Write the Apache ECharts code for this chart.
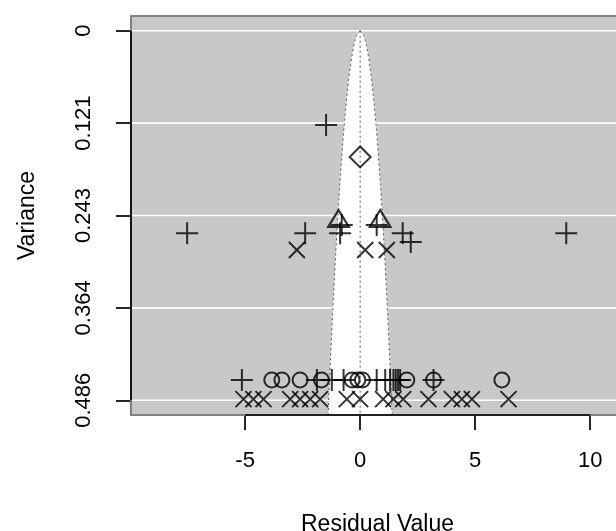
<!DOCTYPE html>
<html>
<head>
<meta charset="utf-8">
<script src="https://cdn.jsdelivr.net/npm/echarts@6/dist/echarts.min.js"></script>
<style>
html,body{margin:0;padding:0;background:#fff;}
#chart{width:616px;height:531px;}
</style>
</head>
<body>
<div id="chart"></div>
<script>
// ---- axis settings ----
const xLim = [-9.96, 11.47];
const yLim = [-0.0194, 0.5054];
const xTicks = [-5, 0, 5, 10];
const xTickLabels = ['-5', '0', '5', '10'];
const yTicks = [0, 0.1215, 0.243, 0.3645, 0.486];
const yTickLabels = ['0', '0.121', '0.243', '0.364', '0.486'];
const xTitle = 'Residual Value';
const yTitle = 'Variance';
const funnelZ = 1.96;

// ---- data (residual value, variance) ----
const plusX = [-1.48, -0.80, 0.72, -7.52, -2.39, -0.87, 1.85, 8.96, 2.20,
               -5.14, -1.88, -1.23, -0.72, 0.72, 1.09, 1.30, 1.45, 1.55, 1.65, 1.74, 3.19];
const plusV = [0.124, 0.2555, 0.2555, 0.2664, 0.2664, 0.2664, 0.2664, 0.2664, 0.278,
               0.4593, 0.4593, 0.4593, 0.4593, 0.4593, 0.4593, 0.4593, 0.4593, 0.4593, 0.4593, 0.4593, 0.4593];
const crossX = [-2.75, 0.22, 1.16,
                -5.07, -4.64, -4.20, -3.04, -2.61, -2.17, -1.74, -0.58, 0.00, 1.00, 1.45, 1.87, 2.97, 3.99, 4.42, 4.86, 6.45];
const crossV = [0.2884, 0.2884, 0.2884,
                0.4845, 0.4845, 0.4845, 0.4845, 0.4845, 0.4845, 0.4845, 0.4845, 0.4845, 0.4845, 0.4845, 0.4845, 0.4845, 0.4845, 0.4845, 0.4845, 0.4845];
const circleX = [-3.84, -3.40, -2.61, -1.68, -0.35, -0.10, 0.10, 2.03, 3.19, 6.16];
const circleV = [0.4593, 0.4593, 0.4593, 0.4593, 0.4593, 0.4593, 0.4593, 0.4593, 0.4593, 0.4593];
const triX = [-0.94, 0.87];
const triV = [0.2506, 0.2506];
const diamondX = [0.0];
const diamondV = [0.166];

function pairs(xs, vs) { return xs.map((x, i) => [x, vs[i]]); }

const chart = echarts.init(document.getElementById('chart'), null, {renderer: 'canvas'});
const FONT = 'Liberation Sans, Arial, sans-serif';
const LW = 1.7;
const mk = {color: 'transparent', borderColor: '#000', borderWidth: 2};

function nearestLabel(v, ticks, labels) {
  let best = 0, d = Infinity;
  ticks.forEach((t, i) => { const dd = Math.abs(t - v); if (dd < d) { d = dd; best = i; } });
  return labels[best];
}

const option = {
  animation: false,
  backgroundColor: '#fff',
  grid: {left: 131, top: 16, width: 493, height: 399, show: true, containLabel: false,
         outerBoundsMode: 'none',
         backgroundColor: '#c8c8c8', borderWidth: 0},
  xAxis: {
    type: 'value', min: xLim[0], max: xLim[1], position: 'bottom',
    axisLine: {show: false, onZero: false}, splitLine: {show: false},
    axisTick: {show: true, customValues: xTicks, length: 15, lineStyle: {color: '#000', width: LW}},
    axisLabel: {customValues: xTicks, formatter: v => nearestLabel(v, xTicks, xTickLabels),
                color: '#000', fontSize: 22, fontFamily: FONT, margin: 35},
    name: xTitle, nameLocation: 'middle', nameGap: 98,
    nameTextStyle: {color: '#000', fontSize: 23, fontFamily: FONT}
  },
  yAxis: {
    type: 'value', inverse: true, min: yLim[0], max: yLim[1], position: 'left',
    axisLine: {show: false, onZero: false}, splitLine: {show: false},
    axisTick: {show: true, customValues: yTicks, length: 15, lineStyle: {color: '#000', width: LW}},
    axisLabel: {customValues: yTicks, formatter: v => nearestLabel(v, yTicks, yTickLabels),
                rotate: 90, align: 'center', verticalAlign: 'bottom',
                color: '#000', fontSize: 22, fontFamily: FONT, margin: 36},
    name: yTitle, nameLocation: 'middle', nameGap: 92, nameRotate: 90,
    nameTextStyle: {color: '#000', fontSize: 23, fontFamily: FONT}
  },
  series: [
    {
      type: 'custom', z: 1, silent: true, clip: true,
      data: [0],
      renderItem: function (params, api) {
        const children = [];
        yTicks.forEach(t => {
          const a = api.coord([xLim[0], t]), b = api.coord([xLim[1], t]);
          children.push({type: 'line', shape: {x1: a[0], y1: a[1], x2: b[0], y2: b[1]},
                         style: {stroke: '#fff', lineWidth: 1.6}});
        });
        const n = 80, left = [], right = [];
        for (let i = 0; i <= n; i++) {
          const v = yLim[1] * i / n;
          left.push(api.coord([-funnelZ * Math.sqrt(v), v]));
          right.push(api.coord([funnelZ * Math.sqrt(v), v]));
        }
        const poly = left.concat(right.slice().reverse());
        children.push({type: 'polygon', shape: {points: poly}, style: {fill: '#fff', stroke: null}});
        const dash = {stroke: '#555', lineWidth: 1, lineDash: [2, 3], fill: null};
        children.push({type: 'polyline', shape: {points: left}, style: dash});
        children.push({type: 'polyline', shape: {points: right}, style: dash});
        const c0 = api.coord([0, 0]), c1 = api.coord([0, yLim[1]]);
        children.push({type: 'line', shape: {x1: c0[0], y1: c0[1], x2: c1[0], y2: c1[1]}, style: dash});
        return {type: 'group', children: children};
      }
    },
    {type: 'scatter', z: 3, data: pairs(plusX, plusV), symbol: 'path://M0,10H20M10,0V20',
     symbolSize: 22, itemStyle: mk},
    {type: 'scatter', z: 3, data: pairs(crossX, crossV), symbol: 'path://M0,0L20,20M20,0L0,20',
     symbolSize: 16, itemStyle: mk},
    {type: 'scatter', z: 3, data: pairs(circleX, circleV), symbol: 'circle',
     symbolSize: 15, itemStyle: mk},
    {type: 'scatter', z: 3, data: pairs(triX, triV), symbol: 'triangle',
     symbolSize: [21, 17], symbolOffset: [0, -2.8], itemStyle: mk},
    {type: 'scatter', z: 3, data: pairs(diamondX, diamondV), symbol: 'diamond',
     symbolSize: [21, 21], itemStyle: mk},
    {
      type: 'custom', z: 5, silent: true, clip: false,
      data: [0],
      renderItem: function (params, api) {
        const tl = api.coord([xLim[0], yLim[0]]), br = api.coord([xLim[1], yLim[1]]);
        const a0 = api.coord([xTicks[0], yLim[1]]), a1 = api.coord([xTicks[xTicks.length - 1], yLim[1]]);
        const b0 = api.coord([xLim[0], yTicks[0]]), b1 = api.coord([xLim[0], yTicks[yTicks.length - 1]]);
        return {type: 'group', children: [
          {type: 'rect', shape: {x: tl[0], y: tl[1], width: br[0] - tl[0], height: br[1] - tl[1]},
           style: {fill: null, stroke: '#808080', lineWidth: 2}},
          {type: 'line', shape: {x1: a0[0], y1: a0[1], x2: a1[0], y2: a1[1]}, style: {stroke: '#000', lineWidth: LW}},
          {type: 'line', shape: {x1: b0[0], y1: b0[1], x2: b1[0], y2: b1[1]}, style: {stroke: '#000', lineWidth: LW}}
        ]};
      }
    }
  ]
};
chart.setOption(option);
</script>
</body>
</html>
